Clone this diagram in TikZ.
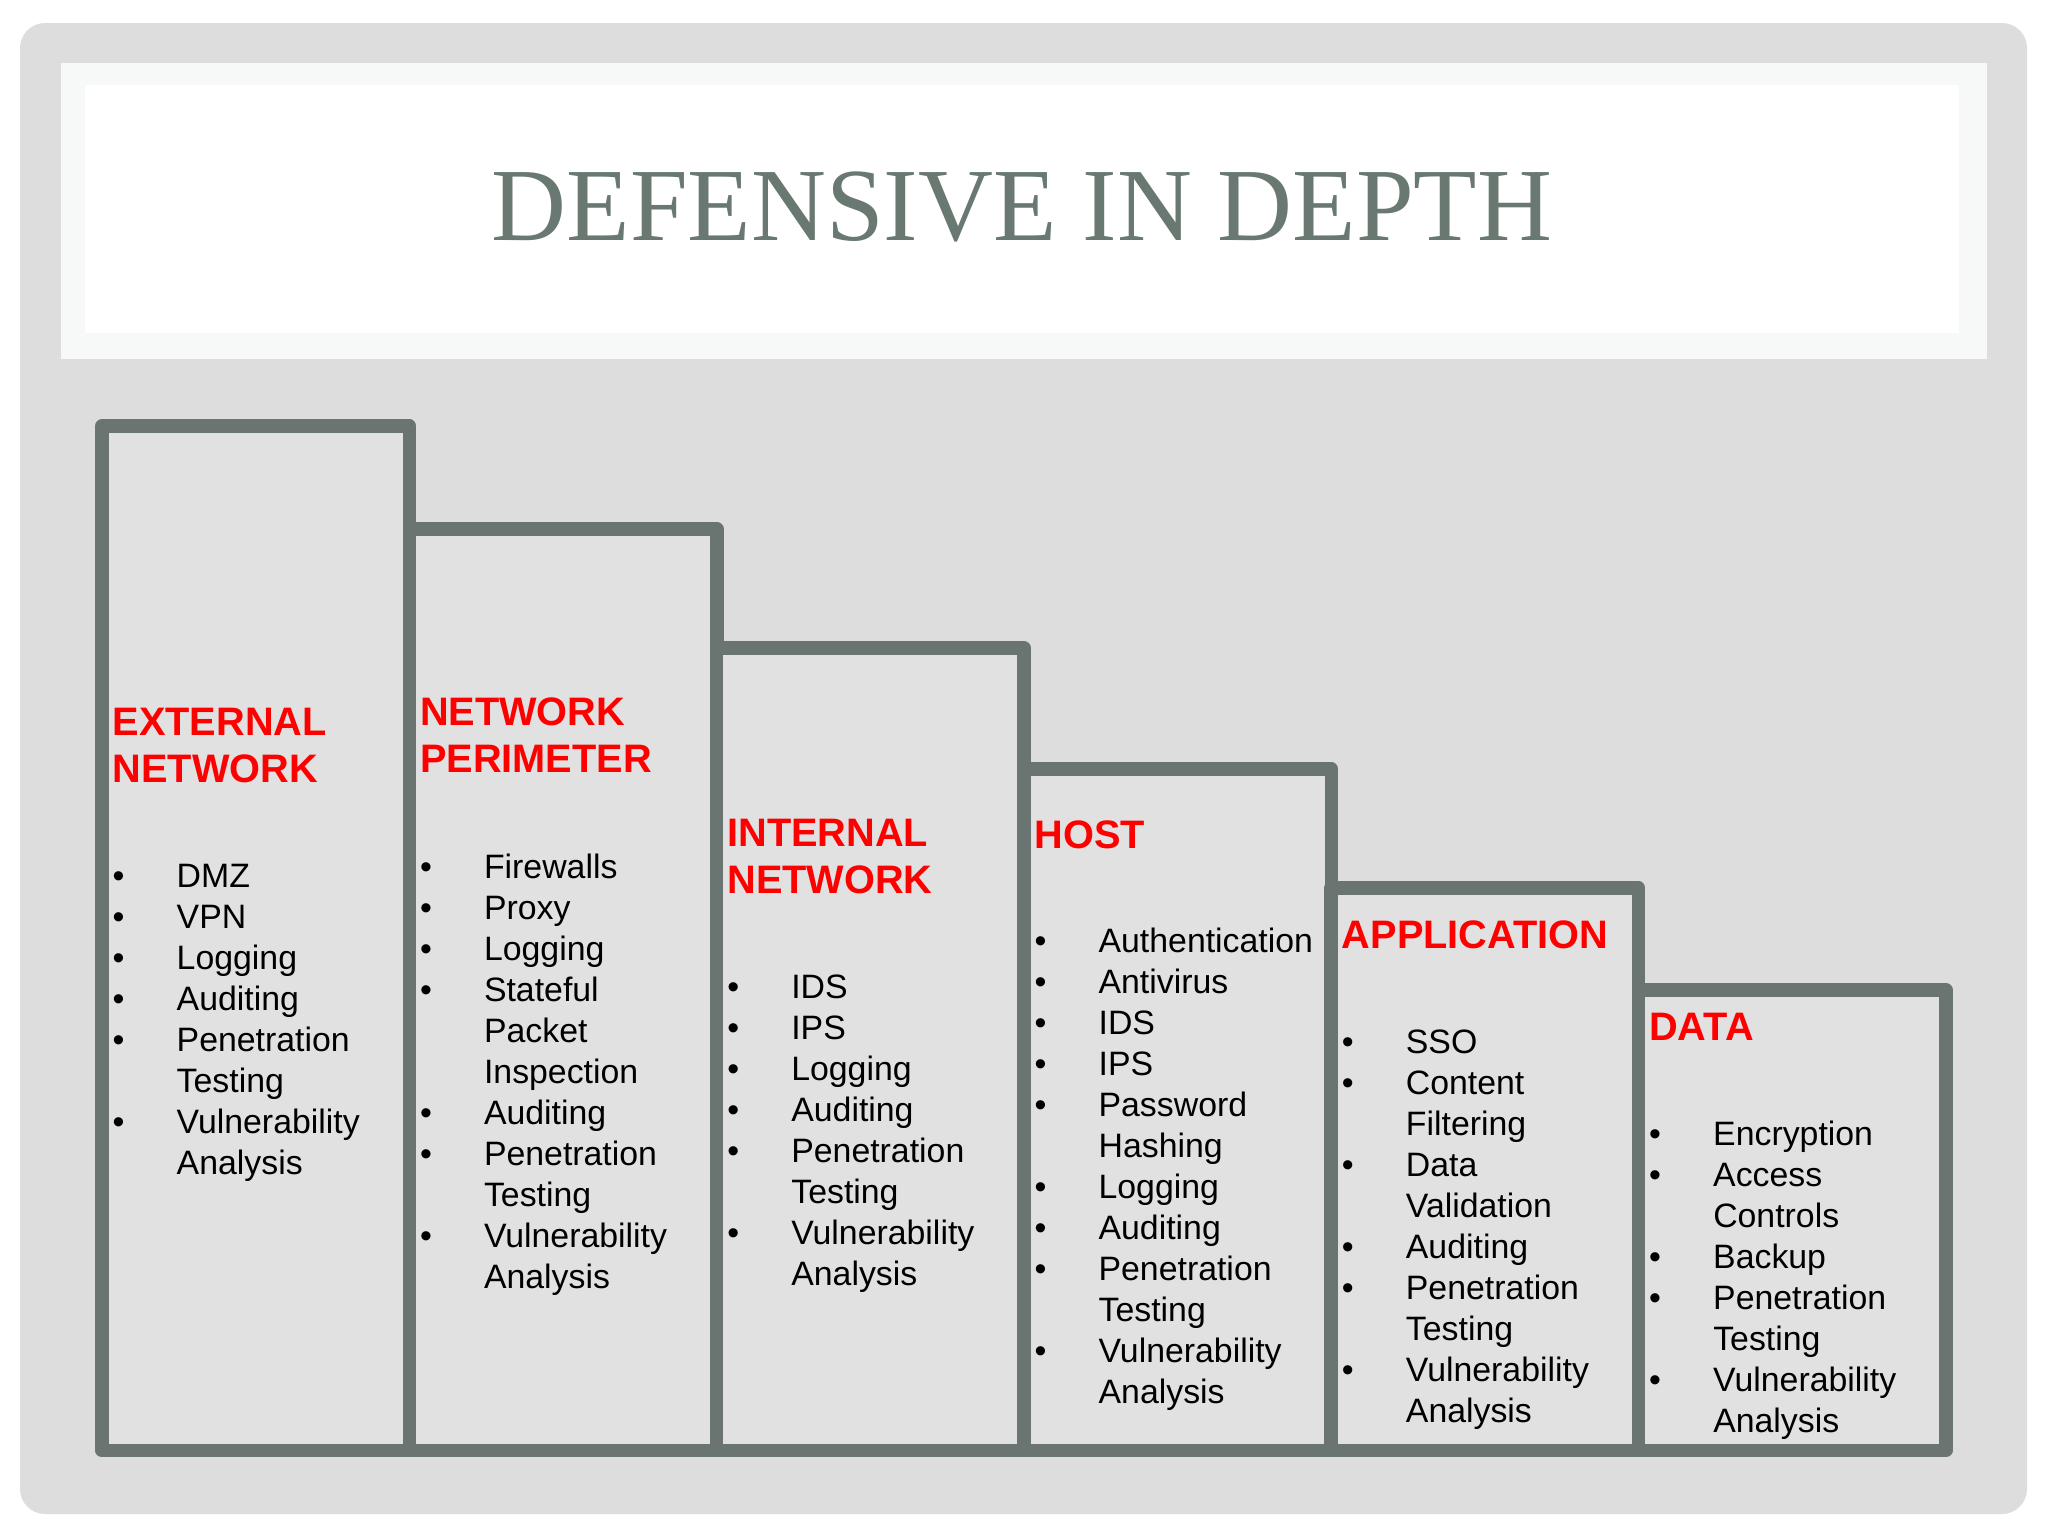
\documentclass[tikz,border=0pt]{standalone}
\usepackage{fontspec}
\setmainfont{Liberation Sans}
\newfontfamily\titlefont{Liberation Serif}
\usepackage{array}
\definecolor{bggray}{RGB}{221,221,221}
\definecolor{colfill}{RGB}{225,225,225}
\definecolor{colstroke}{RGB}{106,117,113}
\definecolor{titlegray}{RGB}{105,121,114}
\definecolor{rim}{RGB}{247,248,248}
\definecolor{headred}{RGB}{255,0,0}
\tikzset{
  colbox/.style={draw=colstroke, fill=colfill, line width=0.135cm, line join=round,
    rectangle, inner sep=0pt, outer sep=0pt, anchor=north west, minimum width=3.073cm},
  head/.style={inner sep=0pt, anchor=base west, text=headred,
    font={\fontsize{11.3}{13.5}\selectfont\bfseries}},
  items/.style={inner sep=0pt, anchor=base west, text=black,
    font={\fontsize{9.62}{11.67}\selectfont}},
  titlestyle/.style={inner sep=0pt, anchor=base, text=titlegray,
    font={\titlefont\fontsize{29.5}{32}\selectfont}}
}
\newcommand\layer[6]{%
  \node[head] (#1h) at (#2+10,#3) {\begin{tabular}[t]{@{}l@{}}#4\end{tabular}};
  \node[items] (#1i) at (#2+10,#5) {\begin{tabular}[t]{@{}p{0.64cm}@{}l@{}}#6\end{tabular}};
}
\begin{document}
\begin{tikzpicture}[x=0.01cm,y=-0.01cm]
\useasboundingbox (0,0) rectangle (2048,1536);
\fill[white] (0,0) rectangle (2048,1536);
\fill[bggray, rounded corners=0.25cm] (20,23) rectangle (2027,1514);
% title panel
\fill[rim] (61,63) rectangle (1987,359);
\fill[white] (85,85) rectangle (1959,333);
\node[titlestyle] (title) at (1022,240) {DEFENSIVE IN DEPTH};
% columns
\node[colbox, minimum height=10.24cm] (c1) at (102,426) {};
\node[colbox, minimum height=9.21cm] (c2) at (409.3,529) {};
\node[colbox, minimum height=8.02cm] (c3) at (716.6,648) {};
\node[colbox, minimum height=6.81cm] (c4) at (1023.9,769) {};
\node[colbox, minimum height=5.62cm] (c5) at (1331.2,888) {};
\node[colbox, minimum height=4.60cm] (c6) at (1638.5,990) {};
% texts
\layer{a}{102}{735}{EXTERNAL\\NETWORK}{887}{%
 • & DMZ\\ • & VPN\\ • & Logging\\ • & Auditing\\ • & Penetration\\ & Testing\\ • & Vulnerability\\ & Analysis}
\layer{b}{409.3}{725}{NETWORK\\PERIMETER}{878}{%
 • & Firewalls\\ • & Proxy\\ • & Logging\\ • & Stateful\\ & Packet\\ & Inspection\\ • & Auditing\\ • & Penetration\\ & Testing\\ • & Vulnerability\\ & Analysis}
\layer{c}{716.6}{846}{INTERNAL\\NETWORK}{998}{%
 • & IDS\\ • & IPS\\ • & Logging\\ • & Auditing\\ • & Penetration\\ & Testing\\ • & Vulnerability\\ & Analysis}
\layer{d}{1023.9}{848}{HOST}{952}{%
 • & Authentication\\ • & Antivirus\\ • & IDS\\ • & IPS\\ • & Password\\ & Hashing\\ • & Logging\\ • & Auditing\\ • & Penetration\\ & Testing\\ • & Vulnerability\\ & Analysis}
\layer{e}{1331.2}{948}{APPLICATION}{1053}{%
 • & SSO\\ • & Content\\ & Filtering\\ • & Data\\ & Validation\\ • & Auditing\\ • & Penetration\\ & Testing\\ • & Vulnerability\\ & Analysis}
\layer{f}{1638.5}{1040}{DATA}{1145}{%
 • & Encryption\\ • & Access\\ & Controls\\ • & Backup\\ • & Penetration\\ & Testing\\ • & Vulnerability\\ & Analysis}
\end{tikzpicture}
\end{document}
